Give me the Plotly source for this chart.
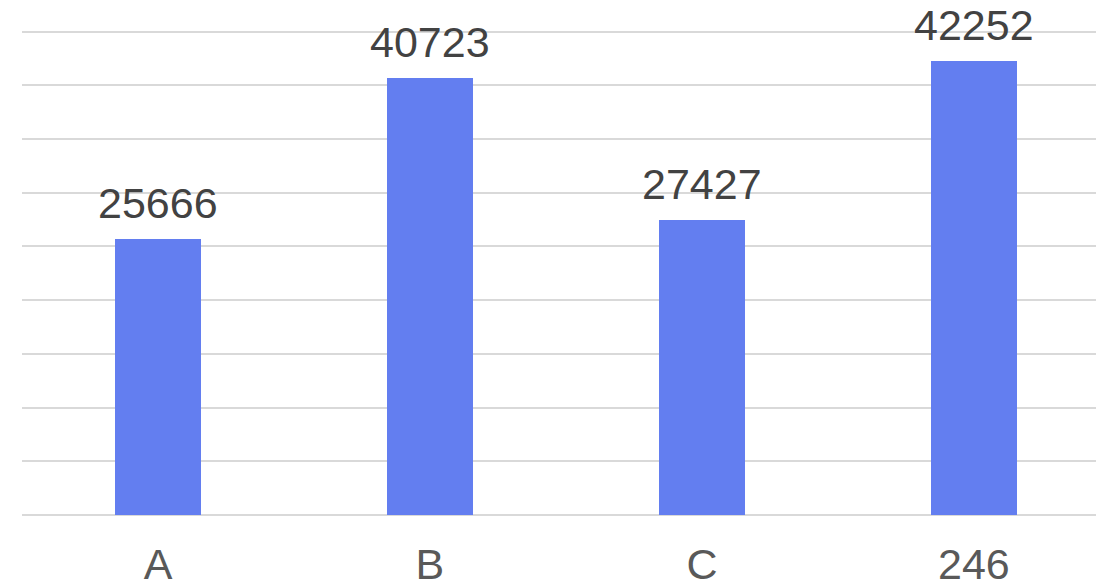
import plotly.graph_objects as go

categories = ["A", "B", "C", "246"]
values = [25666, 40723, 27427, 42252]

bar_color = "#637ef0"
grid_color = "#d9d9d9"

fig = go.Figure()
fig.add_trace(go.Bar(
    x=categories,
    y=values,
    width=0.314,
    marker=dict(color=bar_color, line=dict(width=0)),
    hoverinfo="x+y",
))

# value labels above each bar (category axis positions by index)
for i, val in enumerate(values):
    fig.add_annotation(
        x=i, y=val, text=str(val),
        showarrow=False, yanchor="bottom", yshift=10,
        font=dict(family="Liberation Sans, Arial, sans-serif", size=43, color="#424242"),
    )

fig.update_layout(
    width=1096, height=584,
    margin=dict(l=22, r=0, t=0, b=68.5),
    paper_bgcolor="white", plot_bgcolor="white",
    showlegend=False,
    bargap=0,
)
fig.update_xaxes(
    type="category",
    range=[-0.5, 3.449],
    automargin=False,
    showgrid=False, showline=False, ticks="",
    ticklabelstandoff=20,
    tickfont=dict(family="Liberation Sans, Arial, sans-serif", size=43, color="#595959"),
)
fig.update_yaxes(
    range=[0, 47949],
    automargin=False,
    tick0=0, dtick=5000,
    showticklabels=False, ticks="",
    showgrid=True, gridcolor=grid_color, gridwidth=1.5,
    zeroline=True, zerolinecolor=grid_color, zerolinewidth=1.5,
    showline=False,
)

fig.write_html("out.html")
